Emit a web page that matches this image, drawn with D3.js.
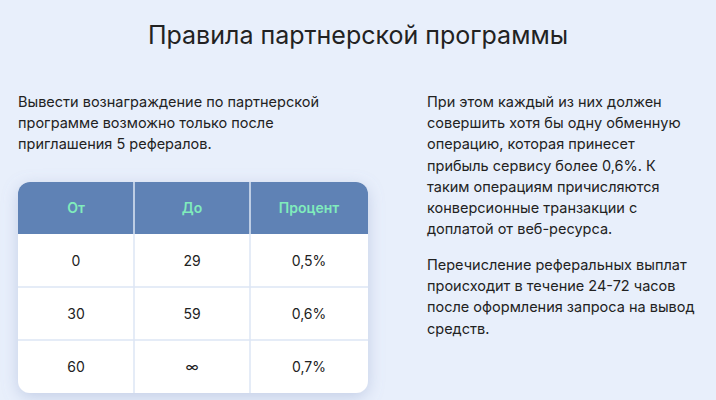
<!DOCTYPE html>
<html><head><meta charset="utf-8">
<script src="https://cdn.jsdelivr.net/npm/d3@7"></script>
<style>body{margin:0;background:#e8effb;}</style>
</head><body>
<svg id="c" width="716" height="400"></svg>
<script>
const title = "Правила партнерской программы";
const leftText = ["Вывести вознаграждение по партнерской","программе возможно только после","приглашения 5 рефералов."];
const rightPara1 = ["При этом каждый из них должен","совершить хотя бы одну обменную","операцию, которая принесет","прибыль сервису более 0,6%. К","таким операциям причисляются","конверсионные транзакции с","доплатой от веб-ресурса."];
const rightPara2 = ["Перечисление реферальных выплат","происходит в течение 24-72 часов","после оформления запроса на вывод","средств."];
const headers = ["От","До","Процент"];
const fromVals = ["0","30","60"];
const toVals = ["29","59","∞"];
const pctVals = ["0,5%","0,6%","0,7%"];

const svg = d3.select("#c");
const font = "Inter, 'Noto Sans', sans-serif";
svg.append("rect").attr("width",716).attr("height",400).attr("fill","#e8effb");
svg.append("text").attr("x",358).attr("y",44).attr("text-anchor","middle")
  .attr("font-family",font).attr("font-size",25).attr("fill","#222").text(title);

function para(lines,x,y0){
  svg.append("g").selectAll("text").data(lines).join("text")
    .attr("x",x).attr("y",(d,i)=>y0+i*21.2).attr("font-family",font)
    .attr("font-size",14.5).attr("fill","#222").text(d=>d);
}
para(leftText,18,107);
para(rightPara1,427,107);
para(rightPara2,427,270);

// table
const defs = svg.append("defs");
const f = defs.append("filter").attr("id","sh").attr("x","-20%").attr("y","-20%").attr("width","140%").attr("height","140%");
f.append("feDropShadow").attr("dx",0).attr("dy",4).attr("stdDeviation",8).attr("flood-color","#8090c0").attr("flood-opacity",0.35);
const tx0=18, tx1=368, ty0=182, hh=52, rh=53;
const x = d3.scaleBand().domain(headers).range([tx0,tx1]);
const colX = [tx0,134,250,tx1];
const rows = fromVals.map((d,i)=>[d,toVals[i],pctVals[i]]);
const y = d3.scaleBand().domain(d3.range(rows.length)).range([ty0+hh, ty0+hh+rh*rows.length]);
const ty1 = ty0+hh+rh*rows.length;
defs.append("clipPath").attr("id","cl").append("rect").attr("x",tx0).attr("y",ty0).attr("width",tx1-tx0).attr("height",ty1-ty0).attr("rx",12);
svg.append("rect").attr("x",tx0).attr("y",ty0).attr("width",tx1-tx0).attr("height",ty1-ty0).attr("rx",12).attr("fill","#fff").attr("filter","url(#sh)");
const g = svg.append("g").attr("clip-path","url(#cl)");
g.append("rect").attr("x",tx0).attr("y",ty0).attr("width",tx1-tx0).attr("height",hh).attr("fill","#5f82b5");
const cx = i=>(colX[i]+colX[i+1])/2;
g.selectAll(".vl").data([1,2]).join("line").attr("x1",i=>colX[i]).attr("x2",i=>colX[i])
  .attr("y1",ty0).attr("y2",ty1).attr("stroke","#dde6f5").attr("stroke-width",1.5);
g.selectAll(".hl").data([1,2]).join("line").attr("x1",tx0).attr("x2",tx1)
  .attr("y1",i=>y(i)).attr("y2",i=>y(i)).attr("stroke","#dde6f5").attr("stroke-width",1.5);
g.selectAll(".h").data(headers).join("text").attr("x",(d,i)=>cx(i)).attr("y",ty0+hh/2+5)
  .attr("text-anchor","middle").attr("font-family",font).attr("font-size",14).attr("font-weight",600)
  .attr("fill","#80ecbc").text(d=>d);
rows.forEach((r,ri)=>{
  g.selectAll(".r"+ri).data(r).join("text").attr("x",(d,i)=>cx(i)).attr("y",y(ri)+rh/2+5)
   .attr("text-anchor","middle").attr("font-family",font).attr("font-size",14).attr("fill","#222").text(d=>d);
});
</script>
</body></html>
